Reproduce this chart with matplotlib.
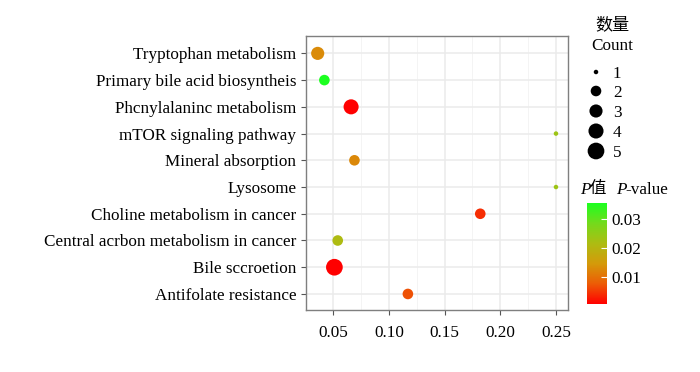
import numpy as np
import matplotlib
matplotlib.use('Agg')
import matplotlib.pyplot as plt
from matplotlib.colors import LinearSegmentedColormap, Normalize

plt.rcParams['font.family'] = ['Liberation Serif', 'Noto Sans CJK SC']

# pathways, top to bottom
pathways = ['Tryptophan metabolism', 'Primary bile acid biosyntheis',
            'Phcnylalaninc metabolism', 'mTOR signaling pathway',
            'Mineral absorption', 'Lysosome', 'Choline metabolism in cancer',
            'Central acrbon metabolism in cancer', 'Bile sccroetion',
            'Antifolate resistance']
rich = [0.036, 0.042, 0.066, 0.250, 0.069, 0.250, 0.182, 0.054, 0.051, 0.117]
counts = [3, 2, 4, 1, 2, 1, 2, 2, 5, 2]
pvals = [0.0130, 0.0357, 0.0006, 0.0235, 0.0125, 0.0235, 0.0040, 0.0215, 0.0005, 0.0068]
legend_counts = [1, 2, 3, 4, 5]
cbar_ticks = [0.01, 0.02, 0.03]

W, H = 700, 372
FS = 12.3


def px(x, y):
    return x / W, 1 - y / H


def dot_size(c):
    # ggplot-like area scale, diameter in pixels -> points^2
    d = 4.5 + 12.2 * np.sqrt((c - 1) / 4)
    return (d * 0.72) ** 2


cmap = LinearSegmentedColormap.from_list(
    'p', [(0.0, '#FF0000'), (0.2, '#EC5C06'), (0.4, '#D49A0A'),
          (0.6, '#ADBC12'), (0.8, '#74DA1C'), (1.0, '#1CFF20')])
norm = Normalize(vmin=min(pvals), vmax=max(pvals))

fig = plt.figure(figsize=(7, 3.72), dpi=100)
l, b = px(306, 310)
r, t = px(568, 36)
ax = fig.add_axes([l, b, r - l, t - b])

ypos = np.arange(len(pathways))[::-1]
ax.scatter(rich, ypos, s=[dot_size(c) for c in counts], c=pvals, cmap=cmap,
           norm=norm, linewidths=0, zorder=3)

ax.set_xlim(0.0255, 0.2608)
ax.set_ylim(-0.6, len(pathways) - 1 + 0.65)
ax.set_yticks(ypos)
ax.set_yticklabels(pathways)
ax.set_xticks([0.05, 0.10, 0.15, 0.20, 0.25])
ax.set_xticklabels(['0.05', '0.10', '0.15', '0.20', '0.25'])
ax.set_xticks([0.075, 0.125, 0.175, 0.225], minor=True)
ax.grid(True, which='major', color='#EBEBEB', linewidth=1.1, zorder=0)
ax.grid(True, which='minor', axis='x', color='#F2F2F2', linewidth=0.6, zorder=0)
ax.set_axisbelow(True)
ax.tick_params(axis='both', which='major', labelsize=FS, color='#555555',
               length=3.5, width=0.8, labelcolor='black')
ax.tick_params(axis='x', which='major', pad=7)
ax.tick_params(axis='x', which='minor', length=0)
for s in ax.spines.values():
    s.set_color('#7F7F7F')
    s.set_linewidth(1.0)

# size legend, drawn on an overlay in pixel units
lax = fig.add_axes([0, 0, 1, 1])
lax.set_xlim(0, W)
lax.set_ylim(H, 0)
lax.axis('off')
fig.text(*px(612, 25), '数量', fontsize=FS, ha='center', va='center')
fig.text(*px(612, 46), 'Count', fontsize=FS, ha='center', va='center')
leg_y = [72, 91, 111, 131, 151]
lax.scatter([596] * len(legend_counts), leg_y,
            s=[dot_size(c) for c in legend_counts], color='black', linewidths=0)
for c, y in zip(legend_counts, leg_y):
    lax.text(613, y, str(c), fontsize=FS, va='center_baseline', ha='left')

# colour bar
cl, cb_ = px(587, 304)
cr, ct = px(607, 203)
cax = fig.add_axes([cl, cb_, cr - cl, ct - cb_])
cb = fig.colorbar(plt.cm.ScalarMappable(norm=norm, cmap=cmap), cax=cax,
                  ticks=cbar_ticks)
cb.outline.set_visible(False)
cb.ax.tick_params(labelsize=FS, color='white', direction='in', length=4,
                  width=0.8, pad=3)
cb.ax.set_yticklabels(['%.2f' % v for v in cbar_ticks])
cb.ax.tick_params(which='minor', length=0)

fig.text(*px(580, 190), 'P', fontsize=FS, style='italic', va='center')
fig.text(*px(589, 189), '值', fontsize=FS - 0.5, va='center')
fig.text(*px(616, 190), 'P', fontsize=FS, style='italic', va='center')
fig.text(*px(625, 190), '-value', fontsize=FS, va='center')

fig.savefig('out.png', dpi=100)
